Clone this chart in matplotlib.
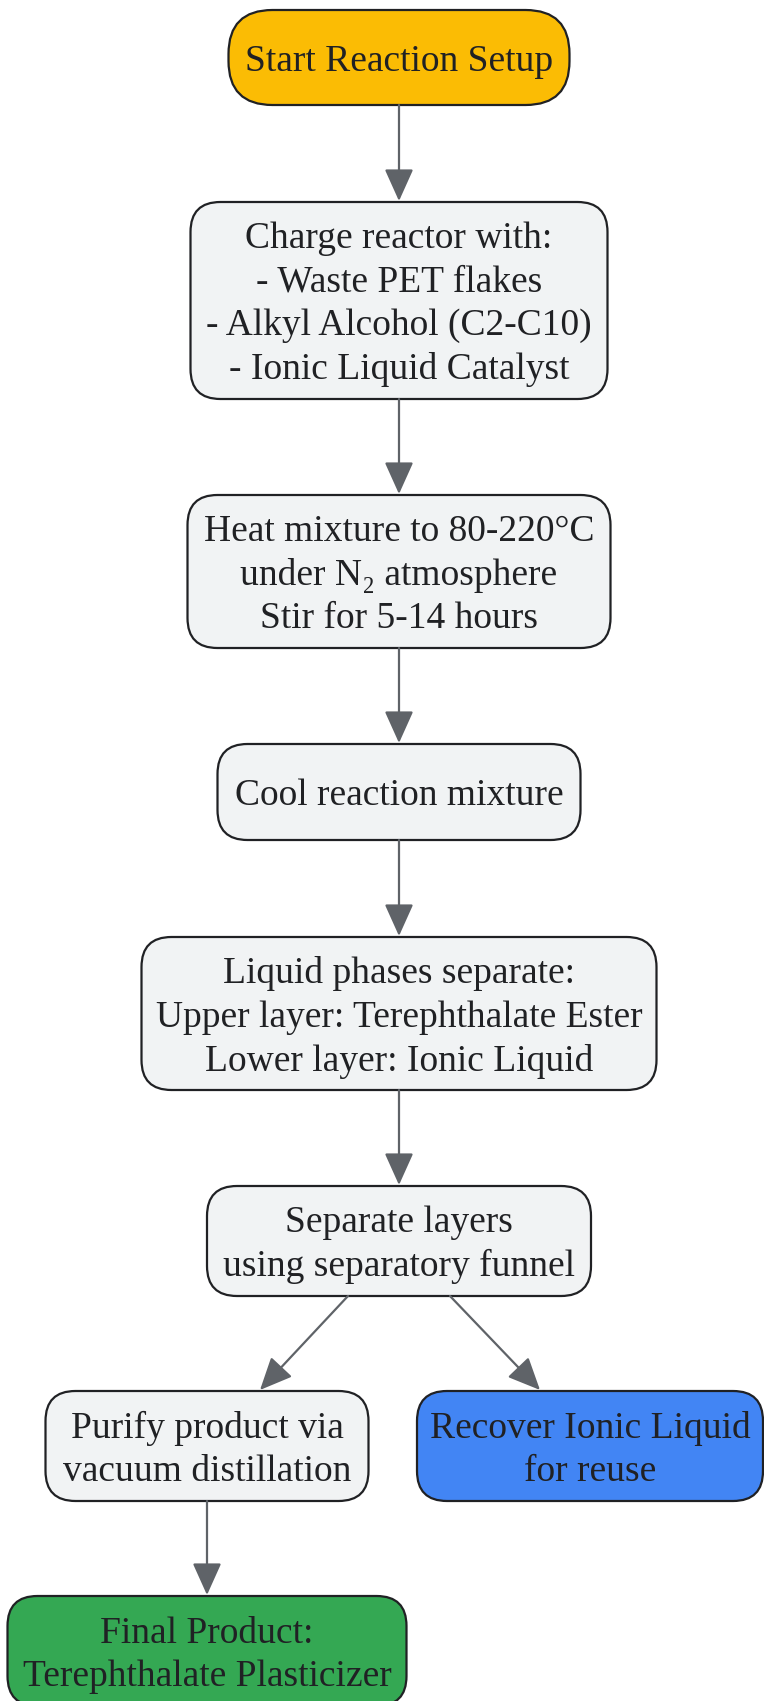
import matplotlib.pyplot as plt
from matplotlib.patches import FancyBboxPatch, FancyArrowPatch

# ── node texts and kinds ─────────────────────────────────────
labels = [
    "Start Reaction Setup",
    "Charge reactor with:\n- Waste PET flakes\n- Alkyl Alcohol (C2-C10)\n- Ionic Liquid Catalyst",
    "Heat mixture to 80-220°C\nunder N₂ atmosphere\nStir for 5-14 hours",
    "Cool reaction mixture",
    "Liquid phases separate:\nUpper layer: Terephthalate Ester\nLower layer: Ionic Liquid",
    "Separate layers\nusing separatory funnel",
    "Purify product via\nvacuum distillation",
    "Recover Ionic Liquid\nfor reuse",
    "Final Product:\nTerephthalate Plasticizer",
]
kinds = ["start", "step", "step", "step", "step", "step", "step", "recover", "final"]
edges = [(0, 1), (1, 2), (2, 3), (3, 4), (4, 5), (5, 6), (5, 7), (6, 8)]

# ── layout (pixels, y downwards) ─────────────────────────────
# (cx, cy, w, h)
boxes = [
    (399, 57.5, 341, 95),
    (399, 300.5, 417, 197),
    (399, 571.5, 423, 153),
    (399, 792, 363, 96),
    (399, 1013.5, 515, 153),
    (399, 1241, 384, 110),
    (207, 1446, 323, 110),
    (590, 1446, 346, 110),
    (207, 1651, 399, 110),
]
# x offsets of arrow start / end relative to node centres
ports = {(5, 6): (-51, 53), (5, 7): (51, -50)}

fills = {"start": "#FBBC04", "step": "#F1F3F4", "recover": "#4285F4", "final": "#34A853"}

W, H = 764, 1701
fig = plt.figure(figsize=(W / 100, H / 100), dpi=100)
ax = fig.add_axes([0, 0, 1, 1])
ax.set_xlim(0, W)
ax.set_ylim(H, 0)
ax.axis("off")

for (cx, cy, w, h), text, kind in zip(boxes, labels, kinds):
    r = 44 if kind == "start" else 30
    box = FancyBboxPatch((cx - w / 2, cy - h / 2), w, h,
                         boxstyle=f"round,pad=0,rounding_size={r}",
                         facecolor=fills[kind], edgecolor="#202124", linewidth=1.6)
    ax.add_patch(box)
    ax.text(cx, cy + 4, text, ha="center", va="center", fontsize=27,
            family=["Liberation Serif", "DejaVu Serif"], color="#202124",
            linespacing=1.33)

for src, dst in edges:
    sx, sy, sw, sh = boxes[src]
    dx, dy, dw, dh = boxes[dst]
    o1, o2 = ports.get((src, dst), (0, 0))
    arrow = FancyArrowPatch((sx + o1, sy + sh / 2), (dx + o2, dy - dh / 2 - 1),
                            arrowstyle="-|>,head_length=1.0,head_width=0.45",
                            mutation_scale=20, color="#5F6368", linewidth=1.6,
                            shrinkA=0, shrinkB=0)
    ax.add_patch(arrow)

fig.savefig("out.png", dpi=100, facecolor="white")
